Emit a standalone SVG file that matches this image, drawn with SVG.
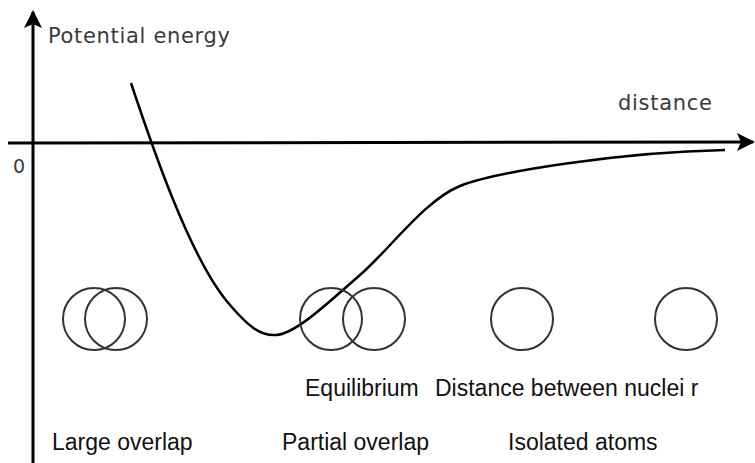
<svg xmlns="http://www.w3.org/2000/svg" width="755" height="463" viewBox="0 0 755 463">
<style>
.axis{stroke:#000;stroke-width:3;fill:none}
.curve{stroke:#000;stroke-width:2.5;fill:none}
.atom{stroke:#333;stroke-width:2;fill:none}
.lbl{font-family:"DejaVu Sans",sans-serif;fill:#3a3a3a}
.cap{font-family:"Liberation Sans",Arial,sans-serif;font-size:23px;fill:#111}
</style>
<defs>
<marker id="ah" viewBox="0 0 18 18" refX="16" refY="9" markerWidth="18" markerHeight="18" markerUnits="userSpaceOnUse" orient="auto">
<path d="M0,0 L18,9 L0,18 L4,9 Z" fill="#000"/>
</marker>
</defs>
<rect width="755" height="463" fill="#fff"/>
<g id="connectors">
<line id="y-axis" class="axis" x1="33" y1="463" x2="33" y2="12" marker-end="url(#ah)"/>
<line id="x-axis" class="axis" x1="8" y1="143" x2="753" y2="142" marker-end="url(#ah)"/>
<path id="energy-curve" class="curve" d="M131,83 C150,140 190,260 230,305 C248,326 260,336 276,335 C296,334 330,301 360,275 C390,249 425,200 460,186 C495,172 620,152 725,150"/>
</g>
<g id="axis-labels">
<text class="lbl" x="48" y="43" font-size="21" textLength="182">Potential energy</text>
<text class="lbl" x="618" y="110" font-size="21" textLength="94">distance</text>
<text class="lbl" x="13" y="173" font-size="19">0</text>
</g>
<g id="large-overlap">
<circle class="atom" cx="94" cy="319" r="31"/>
<circle class="atom" cx="116" cy="319" r="31"/>
<text class="cap" x="52" y="450">Large overlap</text>
</g>
<g id="partial-overlap">
<circle class="atom" cx="331" cy="319" r="31"/>
<circle class="atom" cx="374" cy="319" r="31"/>
<text class="cap" x="305" y="396">Equilibrium</text>
<text class="cap" x="282" y="450">Partial overlap</text>
</g>
<g id="isolated-atoms">
<circle class="atom" cx="522" cy="319" r="31"/>
<circle class="atom" cx="686" cy="319" r="31"/>
<text class="cap" x="435" y="396">Distance between nuclei r</text>
<text class="cap" x="508" y="450">Isolated atoms</text>
</g>
</svg>
